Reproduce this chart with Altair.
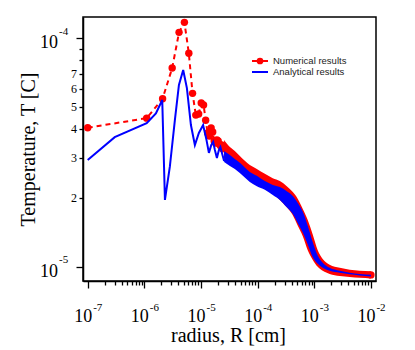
import altair as alt
import pandas as pd

# ---- Numerical results: individually visible points (R [cm], T [C])
num_r = [1e-7, 1.1e-6, 2.1e-6, 3.1e-6, 4.1e-6, 5.1e-6, 6.1e-6, 7.1e-6, 8.1e-6, 9.1e-6,
         1.01e-5, 1.11e-5, 1.21e-5, 1.31e-5, 1.41e-5, 1.51e-5, 1.61e-5, 1.71e-5, 1.81e-5,
         1.91e-5, 2.01e-5, 2.11e-5, 2.21e-5, 2.31e-5, 2.41e-5]
num_t = [4.06e-5, 4.47e-5, 5.44e-5, 7.41e-5, 1.062e-4, 1.175e-4, 8.6e-5, 5.74e-5, 4.61e-5, 4.66e-5,
         5.21e-5, 5.11e-5, 4.38e-5, 3.85e-5, 3.73e-5, 4.05e-5, 3.89e-5, 3.55e-5, 3.48e-5,
         3.59e-5, 3.55e-5, 3.44e-5, 3.38e-5, 3.41e-5, 3.28e-5]
num_end_r = [1e-2]
num_end_t = [9.2e-6]

# ---- Analytical results: resolved part of the curve
ana_r = [1e-7, 3.0e-7, 1.1e-6, 1.6e-6, 2.07e-6, 2.31e-6, 2.82e-6, 3.46e-6, 4.08e-6, 4.85e-6,
         5.64e-6, 6.64e-6, 7.8e-6, 9.18e-6, 1.09e-5, 1.25e-5, 1.38e-5, 1.52e-5, 1.64e-5,
         1.76e-5, 1.91e-5, 2.07e-5, 2.20e-5, 2.34e-5, 2.56e-5]
ana_t = [2.93e-5, 3.69e-5, 4.25e-5, 4.69e-5, 5.37e-5, 1.96e-5, 2.74e-5, 4.38e-5, 6.25e-5, 7.26e-5,
         6.05e-5, 4.17e-5, 3.41e-5, 3.85e-5, 4.17e-5, 3.59e-5, 3.15e-5, 3.41e-5, 3.52e-5,
         3.24e-5, 2.99e-5, 3.24e-5, 3.34e-5, 3.15e-5, 2.90e-5]

# ---- Dense region: envelopes of the (densely sampled) curves
band_r = [2.56e-5, 3.24e-5, 3.96e-5, 4.85e-5, 7.28e-5, 9.68e-5, 1.34e-4, 1.85e-4, 2.47e-4,
          3.27e-4, 4.18e-4, 5.12e-4, 6.27e-4, 7.67e-4, 9.42e-4, 1.15e-3, 1.41e-3, 1.87e-3,
          2.82e-3, 4.23e-3, 6.34e-3, 1e-2]
num_hi = [3.59e-5, 3.34e-5, 3.21e-5, 3.05e-5, 2.79e-5, 2.68e-5, 2.55e-5, 2.44e-5, 2.37e-5,
          2.25e-5, 2.12e-5, 1.98e-5, 1.79e-5, 1.60e-5, 1.38e-5, 1.18e-5, 1.08e-5, 1.02e-5,
          9.88e-6, 9.69e-6, 9.59e-6, 9.54e-6]
num_lo = [2.99e-5, 2.85e-5, 2.76e-5, 2.68e-5, 2.44e-5, 2.32e-5, 2.21e-5, 2.08e-5, 1.96e-5,
          1.82e-5, 1.68e-5, 1.51e-5, 1.36e-5, 1.18e-5, 1.07e-5, 9.98e-6, 9.59e-6, 9.29e-6,
          9.10e-6, 9.01e-6, 8.93e-6, 8.88e-6]
ana_hi = [3.21e-5, 3.08e-5, 2.96e-5, 2.85e-5, 2.60e-5, 2.50e-5, 2.37e-5, 2.28e-5, 2.23e-5,
          2.14e-5, 2.04e-5, 1.90e-5, 1.74e-5, 1.51e-5, 1.28e-5, 1.12e-5, 1.04e-5, 9.88e-6,
          9.59e-6, 9.40e-6, 9.29e-6, 9.21e-6]
ana_lo = [2.87e-5, 2.76e-5, 2.68e-5, 2.57e-5, 2.35e-5, 2.25e-5, 2.17e-5, 2.06e-5, 1.96e-5,
          1.82e-5, 1.70e-5, 1.55e-5, 1.41e-5, 1.25e-5, 1.10e-5, 1.03e-5, 9.88e-6, 9.59e-6,
          9.40e-6, 9.25e-6, 9.15e-6, 9.06e-6]

# ---- Tick labels
x_decades = [1e-7, 1e-6, 1e-5, 1e-4, 1e-3, 1e-2]
x_exps = ["-7", "-6", "-5", "-4", "-3", "-2"]
y_decades = [1e-5, 1e-4]
y_exps = ["-5", "-4"]
y_minor = [2e-5, 3e-5, 4e-5, 5e-5, 6e-5, 7e-5]
y_minor_lab = ["2", "3", "4", "5", "6", "7"]
mant = [1, 2, 3, 4, 5, 6, 7, 8, 9]
x_ticks = [m * d for d in x_decades[:-1] for m in mant] + [x_decades[-1]]
y_ticks = [m * 1e-5 for m in mant] + [1e-4]

legend_labels = ["Numerical results", "Analytical results"]

RED = "#ff0000"
BLUE = "#0000ff"
SERIF = "Liberation Serif"
SANS = "Liberation Sans"

df_num = pd.DataFrame({"r": num_r, "t": num_t})
df_end = pd.DataFrame({"r": num_end_r, "t": num_end_t})
df_ana = pd.DataFrame({"r": ana_r, "t": ana_t})
df_band = pd.DataFrame({"r": band_r, "nhi": num_hi, "nlo": num_lo, "ahi": ana_hi, "alo": ana_lo})
df_xlab = pd.DataFrame({"r": x_decades, "e": x_exps})
df_ylab = pd.DataFrame({"t": y_decades, "e": y_exps})
df_ymin = pd.DataFrame({"t": y_minor, "l": y_minor_lab})
df_one = pd.DataFrame({"a": [0]})

xs = alt.Scale(type="log", domain=[8.26e-8, 1.23e-2], nice=False)
ys = alt.Scale(type="log", domain=[8.65e-6, 1.24e-4], nice=False)

major_test = "abs(log(datum.value)/LN10 - round(log(datum.value)/LN10)) < 0.001"

xaxis = alt.Axis(values=x_ticks, labels=False, grid=False, title="radius, R [cm]",
                 titleFont=SERIF, titleFontSize=20, titleFontWeight="normal", titleColor="black",
                 titleX=145, titleY=60, titleAlign="center", titleBaseline="alphabetic",
                 domainColor="black", domainWidth=1.5, tickColor="black", tickWidth=1.3,
                 tickSize={"condition": {"test": major_test, "value": 7}, "value": 4})
yaxis = alt.Axis(values=y_ticks, labels=False, grid=False, title="Temperature, T [C]",
                 titleFont=SERIF, titleFontSize=20, titleFontWeight="normal", titleColor="black",
                 titleX=-49, titleY=132, titleAngle=-90, titleAlign="center",
                 titleBaseline="alphabetic",
                 domainColor="black", domainWidth=1.5, tickColor="black", tickWidth=1.3,
                 tickSize={"condition": {"test": major_test, "value": 7}, "value": 4})

X = lambda f="r": alt.X(f"{f}:Q", scale=xs, axis=xaxis)
Y = lambda f="t": alt.Y(f"{f}:Q", scale=ys, axis=yaxis)

red_band = alt.Chart(df_band).mark_area(color=RED, interpolate="monotone").encode(
    x=X(), y=Y("nhi"), y2="nlo:Q")
red_line = alt.Chart(df_num).mark_line(color=RED, strokeWidth=2, strokeDash=[5, 4]).encode(
    x=X(), y=Y())
red_pts = alt.Chart(df_num).mark_point(color=RED, filled=True, opacity=1, size=55).encode(
    x=X(), y=Y())
red_end = alt.Chart(df_end).mark_point(color=RED, filled=True, opacity=1, size=55).encode(
    x=X(), y=Y())
blue_band = alt.Chart(df_band).mark_area(color=BLUE, interpolate="monotone").encode(
    x=X(), y=Y("ahi"), y2="alo:Q")
blue_line = alt.Chart(df_ana).mark_line(color=BLUE, strokeWidth=2).encode(x=X(), y=Y())

xlab = alt.Chart(df_xlab).mark_text(font=SERIF, fontSize=18, align="right", baseline="alphabetic",
                                    dx=4.5, color="black").encode(
    x=X(), y=alt.value(305), text=alt.value("10"))
xexp = alt.Chart(df_xlab).mark_text(font=SERIF, fontSize=11, align="left", baseline="alphabetic",
                                    dx=5.5, color="black").encode(
    x=X(), y=alt.value(294), text="e:N")
ylab = alt.Chart(df_ylab).mark_text(font=SERIF, fontSize=18, align="right", baseline="alphabetic",
                                    dy=10, color="black").encode(
    y=Y(), x=alt.value(-25), text=alt.value("10"))
yexp = alt.Chart(df_ylab).mark_text(font=SERIF, fontSize=11, align="left", baseline="alphabetic",
                                    dy=-3.3, color="black").encode(
    y=Y(), x=alt.value(-24), text="e:N")
ymin = alt.Chart(df_ymin).mark_text(font=SERIF, fontSize=12, align="right", baseline="middle",
                                    color="black").encode(
    y=Y(), x=alt.value(-6), text="l:N")

# legend (inside plot, top right)
leg_red = alt.Chart(df_one).mark_rule(color=RED, strokeWidth=2, strokeDash=[5, 6]).encode(
    x=alt.value(169), x2=alt.value(185), y=alt.value(44))
leg_dot = alt.Chart(df_one).mark_point(color=RED, filled=True, opacity=1, size=45).encode(
    x=alt.value(177), y=alt.value(44))
leg_blue = alt.Chart(df_one).mark_rule(color=BLUE, strokeWidth=2).encode(
    x=alt.value(169), x2=alt.value(185), y=alt.value(55))
leg_t1 = alt.Chart(df_one).mark_text(font=SANS, fontSize=9.5, align="left", baseline="middle",
                                     color="#222222").encode(
    x=alt.value(190), y=alt.value(44), text=alt.value(legend_labels[0]))
leg_t2 = alt.Chart(df_one).mark_text(font=SANS, fontSize=9.5, align="left", baseline="middle",
                                     color="#222222").encode(
    x=alt.value(190), y=alt.value(55), text=alt.value(legend_labels[1]))

chart = alt.layer(
    red_band, red_line, red_pts, red_end, blue_band, blue_line,
    xlab, xexp, ylab, yexp, ymin,
    leg_red, leg_dot, leg_blue, leg_t1, leg_t2,
).properties(
    width=293, height=264,
    autosize=alt.AutoSizeParams(type="none"),
    padding={"left": 75, "top": 9, "right": 30, "bottom": 67},
    background="white",
).configure_view(stroke="black", strokeWidth=1.5)

chart.save("out.html", embed_options={"renderer": "svg", "actions": False})
